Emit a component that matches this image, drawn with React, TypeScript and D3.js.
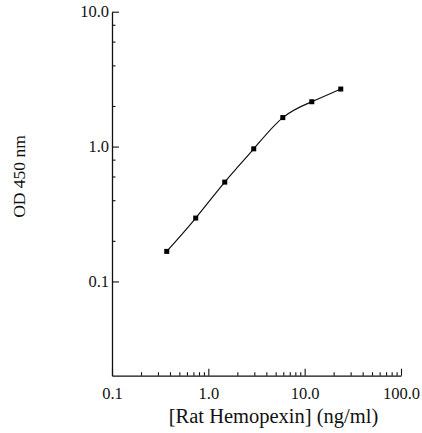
import { useRef, useEffect } from "react";
import * as d3 from "d3";

// Rat Hemopexin standard curve
const concentrations = [0.37, 0.74, 1.48, 2.96, 5.93, 11.85, 23.7];
const odValues = [0.167, 0.295, 0.545, 0.962, 1.64, 2.15, 2.67];

const xMajorTicks = [0.1, 1, 10, 100];
const xMinorTicks = [2, 3, 4, 5, 6, 7, 8, 9].flatMap((m) => [m * 0.1, m, m * 10]);
const yMajorTicks = [0.1, 1, 10];
const yMinorTicks = [0.2, 0.4, 0.6, 0.8, 2, 4, 6, 8];

const WIDTH = 422;
const HEIGHT = 433;
const FONT = "Liberation Serif, Times New Roman, serif";
const INK = "#111";

export default function App() {
  const svgRef = useRef<SVGSVGElement>(null);

  useEffect(() => {
    if (!svgRef.current) return;
    const svg = d3.select(svgRef.current);
    svg.selectAll("*").remove();

    const x = d3.scaleLog().domain([0.1, 100]).range([112, 401]);
    const y = d3.scaleLog().domain([0.02, 10]).range([375.7, 11.7]);

    const fmt = (d: d3.NumberValue) => d3.format(".1f")(+d);

    // x axis, ticks pointing inward
    const gx = svg.append("g").attr("transform", `translate(0,${y.range()[0]})`);
    gx.call(
      d3.axisBottom(x).tickValues(xMajorTicks).tickSizeInner(-7).tickSizeOuter(0).tickPadding(12).tickFormat(fmt),
    );
    const gxm = svg.append("g").attr("transform", `translate(0,${y.range()[0]})`);
    gxm.call(d3.axisBottom(x).tickValues(xMinorTicks).tickSizeInner(-3.5).tickSizeOuter(0).tickFormat(() => ""));
    gxm.select(".domain").remove();

    // y axis
    const gy = svg.append("g").attr("transform", `translate(${x.range()[0]},0)`);
    gy.call(
      d3.axisLeft(y).tickValues(yMajorTicks).tickSizeInner(-7).tickSizeOuter(0).tickPadding(3).tickFormat(fmt),
    );
    const gym = svg.append("g").attr("transform", `translate(${x.range()[0]},0)`);
    gym.call(d3.axisLeft(y).tickValues(yMinorTicks).tickSizeInner(-3.5).tickSizeOuter(0).tickFormat(() => ""));
    gym.select(".domain").remove();

    svg.selectAll("g").attr("font-family", FONT).attr("font-size", 16.5);
    svg.selectAll(".domain").attr("stroke", INK).attr("stroke-width", 1.3);
    svg.selectAll(".tick line").attr("stroke", INK).attr("stroke-width", 1.1);
    svg.selectAll(".tick text").attr("fill", INK);

    // fitted curve
    const pts: [number, number][] = concentrations.map((c, i) => [x(c), y(odValues[i])]);
    svg
      .append("path")
      .attr("d", d3.line().curve(d3.curveNatural)(pts))
      .attr("fill", "none")
      .attr("stroke", INK)
      .attr("stroke-width", 1.2);

    // markers
    const s = 5;
    svg
      .append("g")
      .selectAll("rect")
      .data(pts)
      .join("rect")
      .attr("x", (d) => d[0] - s / 2)
      .attr("y", (d) => d[1] - s / 2)
      .attr("width", s)
      .attr("height", s)
      .attr("fill", "#000");

    // axis titles
    svg
      .append("text")
      .attr("transform", `translate(25,176.5) rotate(-90)`)
      .attr("text-anchor", "middle")
      .attr("font-family", FONT)
      .attr("font-size", 17.5)
      .attr("fill", INK)
      .text("OD 450 nm");

    svg
      .append("text")
      .attr("x", 273.5)
      .attr("y", 423)
      .attr("text-anchor", "middle")
      .attr("font-family", FONT)
      .attr("font-size", 20.5)
      .attr("fill", INK)
      .text("[Rat Hemopexin] (ng/ml)");
  }, []);

  return (
    <div style={{ position: "absolute", left: 0, top: 0 }}>
      <svg ref={svgRef} width={WIDTH} height={HEIGHT} style={{ display: "block", background: "#fff" }} />
    </div>
  );
}
